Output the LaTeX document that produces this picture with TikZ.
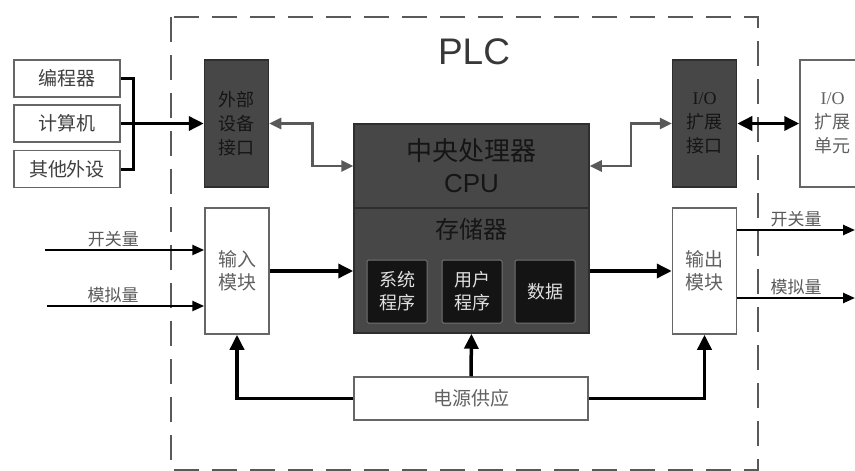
\documentclass[tikz,border=0pt]{standalone}
\usepackage{fontspec}
\setmainfont{Liberation Serif}
\setsansfont{Liberation Sans}
\newfontfamily\cjk{Noto Sans CJK SC}
\usetikzlibrary{arrows.meta}

\definecolor{darkfill}{HTML}{474747}
\definecolor{darktext}{HTML}{151515}

\begin{document}
\begin{tikzpicture}[
    x=1pt, y=-1pt,
    >={Triangle[length=15pt,width=14pt]},
    box/.style={
        draw=black!60,
        line width=1.5pt,
        fill=white,
        text=black!62,
        align=center,
        inner sep=0pt,
        font=\cjk\fontsize{19}{23}\selectfont
    },
    dev/.style={box, minimum width=106pt, minimum height=37pt, text=black!75},
    port/.style={
        draw=black!82,
        line width=1.5pt,
        fill=darkfill,
        text=darktext,
        align=center,
        inner sep=0pt,
        minimum width=64pt,
        minimum height=127pt,
        font=\cjk\fontsize{18}{24}\selectfont
    },
    module/.style={box, minimum width=64pt, minimum height=126pt},
    core/.style={draw=black!82, line width=1.5pt, fill=darkfill, text=darktext,
        align=center, inner sep=0pt, minimum width=235pt},
    memcell/.style={draw=black!55, rounded corners=1.5pt, line width=1pt,
        fill=black!92, text=black!12, align=center, inner sep=0pt,
        minimum width=60pt, minimum height=63pt, font=\cjk\fontsize{18}{23}\selectfont},
    arr/.style={->, line width=3.5pt},
    sig/.style={-{Triangle[length=12pt,width=10pt]}, line width=2.5pt},
    garr/.style={{Triangle[length=12pt,width=11pt]}-{Triangle[length=12pt,width=11pt]},
        line width=2.5pt, draw=black!65},
    lbl/.style={text=black!65, inner sep=1.5pt, font=\cjk\fontsize{17}{20}\selectfont}
]
    \clip (0,0) rectangle (855,471);

    % PLC frame
    \draw[draw=black!65, line width=2.5pt, dash pattern=on 25pt off 13pt]
        (171,17) rectangle (758,470);
    \node[text=black!78, font=\sffamily\fontsize{37}{40}\selectfont] (plc) at (474,52) {PLC};

    % external devices
    \node[dev] (prog) at (67,78.5) {编程器};
    \node[dev] (comp) at (67,123.5) {计算机};
    \node[dev] (other) at (67,169) {其他外设};
    \coordinate (bus) at (133,123.5);

    % interfaces
    \node[port] (extif) at (236.5,123.5) {外部\\设备\\接口};
    \node[port] (ioif) at (704.5,123.5) {{\rmfamily I/O}\\扩展\\接口};
    \node[box, minimum width=65pt, minimum height=127pt,
        font=\cjk\fontsize{18}{24}\selectfont] (iounit) at (832.5,123.5)
        {{\rmfamily I/O}\\扩展\\单元};

    % CPU and memory
    \node[core, minimum height=84pt, font=\fontsize{26}{32}\selectfont] (cpu) at (471.5,166)
        {{\cjk 中央处理器}\\{\sffamily CPU}};
    \node[core, minimum height=125pt] (mem) at (471.5,270.5) {};
    \node[text=darktext, font=\cjk\fontsize{24}{28}\selectfont] (memtitle) at (471.5,229) {存储器};
    \node[memcell] (sysprog) at (397,291.5) {系统\\程序};
    \node[memcell] (userprog) at (472,291.5) {用户\\程序};
    \node[memcell] (data) at (545,291.5) {数据};

    % modules
    \node[module] (inmod) at (237,271) {输入\\模块};
    \node[module] (outmod) at (704.5,271) {输出\\模块};
    \node[box, minimum width=234pt, minimum height=43pt] (power) at (471,398.5) {电源供应};

    % signal ends
    \coordinate (swin) at (45,250);
    \coordinate (anin) at (47,306);
    \coordinate (swout) at (855,230);
    \coordinate (anout) at (855,298);

    % connectors
    \draw[line width=3pt] (prog.east) -| (bus) |- (other.east);
    \draw[arr] (comp.east) -- (extif.west);
    \draw[garr] (extif.east) -- ++(43,0) |- (cpu.west);
    \draw[garr] (cpu.east) -- ++(41,0) |- (ioif.west);
    \draw[arr, <->] (ioif.east) -- (iounit.west);

    \draw[sig] (swin) -- node[lbl, above, pos=0.43] {开关量} (inmod.west |- swin);
    \draw[sig] (anin) -- node[lbl, above, pos=0.42] {模拟量} (inmod.west |- anin);
    \draw[sig] (outmod.east |- swout) -- node[lbl, above] {开关量} (swout);
    \draw[sig] (outmod.east |- anout) -- node[lbl, above] {模拟量} (anout);

    \draw[arr] (inmod.east) -- (mem.west |- inmod.east);
    \draw[arr] (mem.east |- outmod.west) -- (outmod.west);

    \draw[arr] (power.west) -| (inmod.south);
    \draw[arr] (power.east) -| (outmod.south);
    \draw[arr] (power.north) -- (mem.south);
\end{tikzpicture}
\end{document}
